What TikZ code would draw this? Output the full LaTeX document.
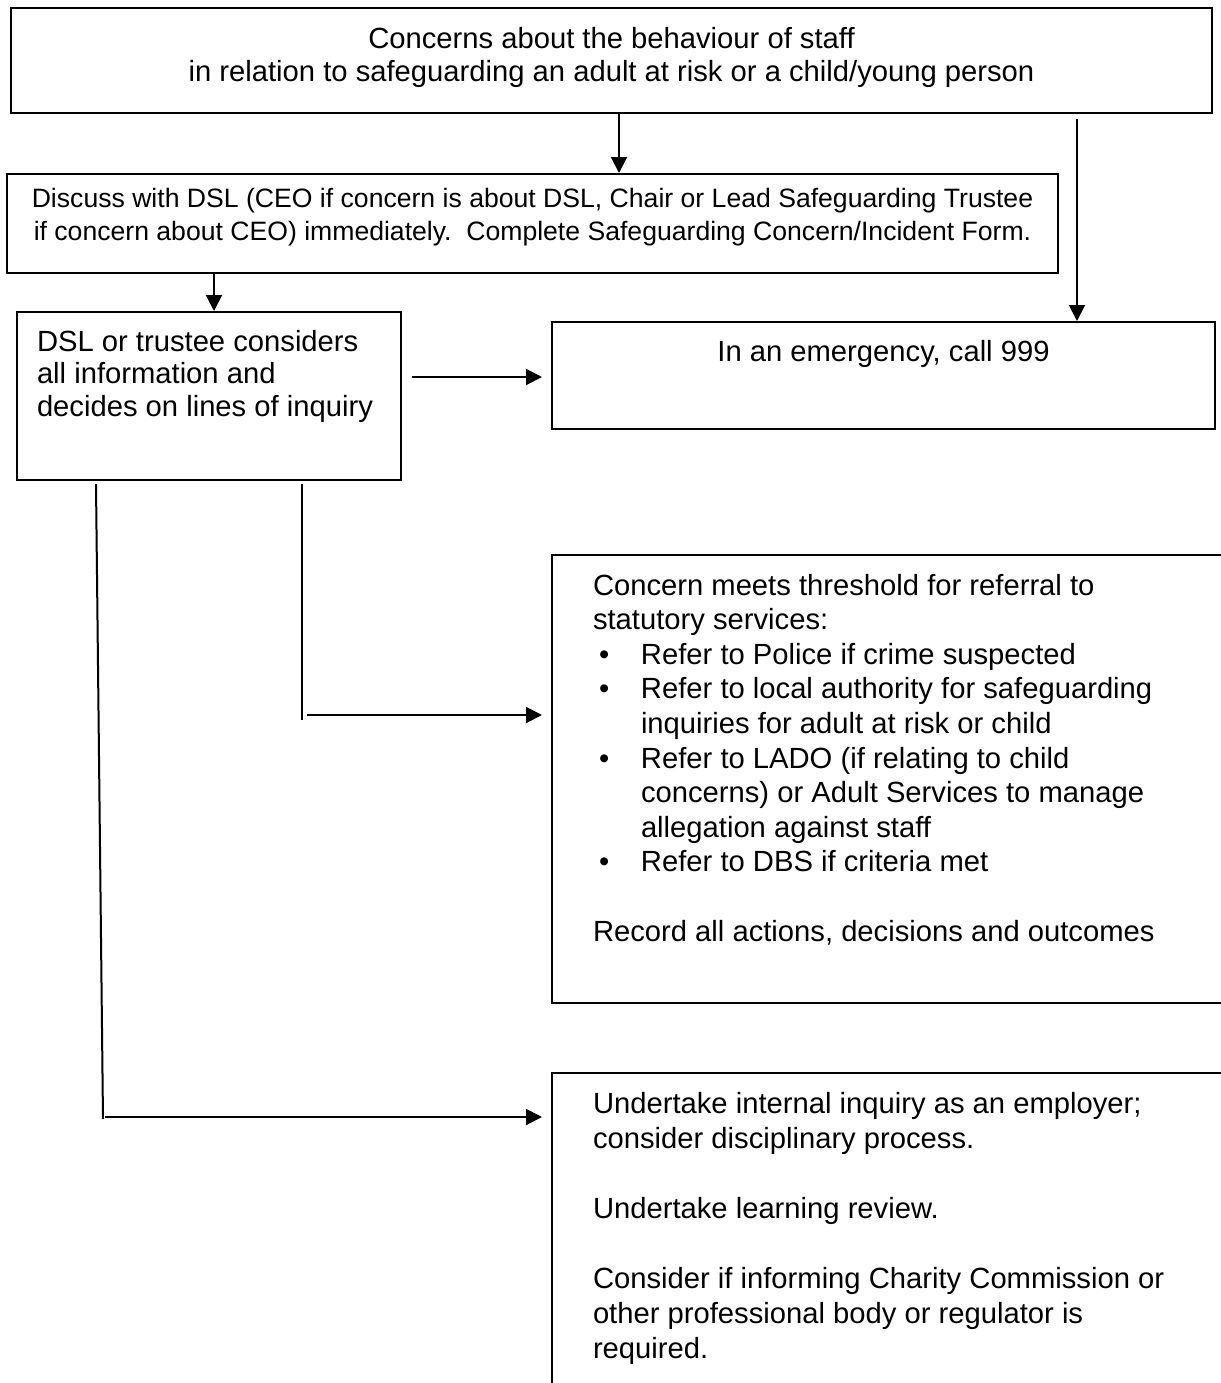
\documentclass[tikz,border=0pt]{standalone}
\usepackage{fontspec}
\setmainfont{Liberation Sans}
\usetikzlibrary{arrows.meta}
\usetikzlibrary{positioning}
\usetikzlibrary{calc}
\tikzset{
    box/.style={draw, line width=1pt, inner sep=0pt, anchor=north west},
    txt/.style={inner sep=0pt, align=left, font=\fontsize{14.6}{16.75}\selectfont},
  }
\newcommand{\bul}{\hspace*{3pt}\makebox[21pt][l]{\textbullet}}
\newcommand{\ind}{\hspace*{24pt}}

\begin{document}
\begin{tikzpicture}[x=0.5pt,y=-0.5pt,>={Triangle[length=8pt,width=8pt]},line width=1pt]
  \useasboundingbox (0,0) rectangle (1221,1383);
  \clip (0,0) rectangle (1221,1383);
  % boxes
  \node[box, minimum width=600.5pt, minimum height=52.5pt] (concern) at (10,7) {};
  \node[box, minimum width=525.5pt, minimum height=49.5pt] (discuss) at (6,173) {};
  \node[box, minimum width=192pt, minimum height=84pt] (dsl) at (16,311) {};
  \node[box, minimum width=331.5pt, minimum height=53.5pt] (emergency) at (551,321) {};
  \node[box, minimum width=350pt, minimum height=224pt] (referral) at (551,554) {};
  \node[box, minimum width=350pt, minimum height=200pt] (internal) at (551,1072) {};

  % texts
  \node[txt, align=center, anchor=north] (concerntext) at ($(concern.north)+(0,19)$)
    {Concerns about the behaviour of staff\\ in relation to safeguarding an adult at risk or a child/young person};
  \node[txt, align=center, anchor=north, font=\fontsize{13.3}{16.5}\selectfont] (discusstext) at ($(discuss.north)+(0,14)$)
    {Discuss with DSL (CEO if concern is about DSL, Chair or Lead Safeguarding Trustee\\
     if concern about CEO) immediately.\ \ Complete Safeguarding Concern/Incident Form.};
  \node[txt, anchor=north west, font=\fontsize{14.6}{16.25}\selectfont] (dsltext) at ($(dsl.north west)+(20,18)$)
    {DSL or trustee considers\\ all information and\\ decides on lines of inquiry};
  \node[txt, align=center, anchor=north] (emergencytext) at ($(emergency.north)+(0,18)$)
    {In an emergency, call 999};
  \node[txt, anchor=north west, font=\fontsize{14.6}{17.3}\selectfont] (referraltext) at ($(referral.north west)+(41,19)$)
    {Concern meets threshold for referral to\\
     statutory services:\\
     \bul Refer to Police if crime suspected\\
     \bul Refer to local authority for safeguarding\\
     \ind inquiries for adult at risk or child\\
     \bul Refer to LADO (if relating to child\\
     \ind concerns) or Adult Services to manage\\
     \ind allegation against staff\\
     \bul Refer to DBS if criteria met\\
     \mbox{}\\
     Record all actions, decisions and outcomes};
  \node[txt, anchor=north west, font=\fontsize{14.6}{17.5}\selectfont] (internaltext) at ($(internal.north west)+(41,19)$)
    {Undertake internal inquiry as an employer;\\
     consider disciplinary process.\\
     \mbox{}\\
     Undertake learning review.\\
     \mbox{}\\
     Consider if informing Charity Commission or\\
     other professional body or regulator is\\
     required.};

  % connectors
  \coordinate (c1) at ($(concern.south west)+(609,0)$);
  \draw[->] (c1) -- (c1 |- discuss.north);
  \coordinate (c2) at ($(concern.south west)+(1067,5)$);
  \draw[->] (c2) -- (c2 |- emergency.north);
  \coordinate (c3) at ($(discuss.south west)+(208,0)$);
  \draw[->] (c3) -- (c3 |- dsl.north);
  \coordinate (c4) at ($(dsl.north east)+(10,66)$);
  \draw[->, shorten >=4.5pt] (c4) -- (c4 -| emergency.west);
  \coordinate (c5) at ($(dsl.south west)+(286,3)$);
  \coordinate (c6) at ($(c5)+(0,236)$);
  \draw (c5) -- (c6);
  \coordinate (c7) at ($(c6)+(5,-5)$);
  \draw[->, shorten >=4.5pt] (c7) -- (c7 -| referral.west);
  \coordinate (c8) at ($(dsl.south west)+(80,3)$);
  \coordinate (c9) at ($(internal.north west)+(-448,47)$);
  \draw (c8) -- (c9);
  \coordinate (c10) at ($(c9)+(2,-2)$);
  \draw[->, shorten >=4.5pt] (c10) -- (c10 -| internal.west);
\end{tikzpicture}
\end{document}
